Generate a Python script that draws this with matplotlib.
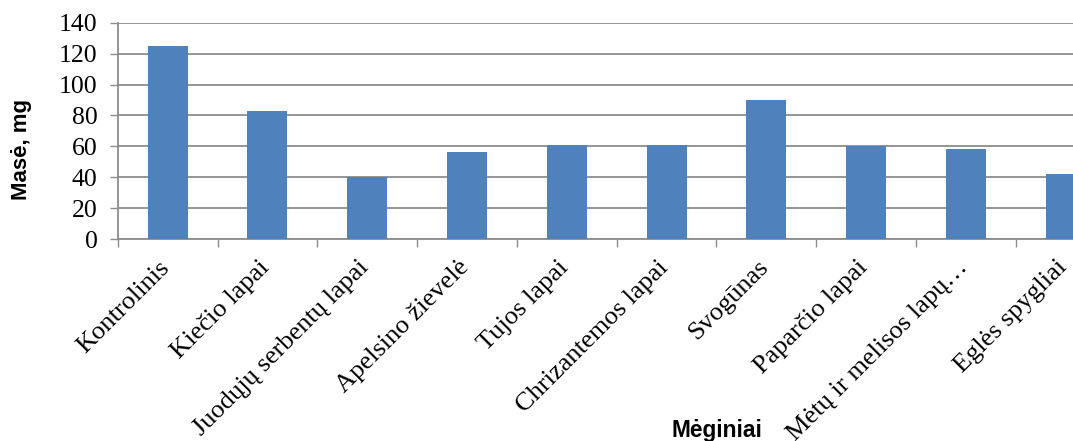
import matplotlib
matplotlib.use("Agg")
import matplotlib.pyplot as plt
import matplotlib.transforms as mtransforms
from matplotlib import font_manager
import numpy as np

# ── data ──
samples = [
    "Kontrolinis", "Kiečio lapai", "Juodųjų serbentų lapai", "Apelsino žievelė",
    "Tujos lapai", "Chrizantemos lapai", "Svogūnas", "Paparčio lapai",
    "Mėtų ir melisos lapų…", "Eglės spygliai",
]
mass_mg = [125, 83, 40, 56, 61, 61, 90, 60, 58, 42]
y_ticks = [0, 20, 40, 60, 80, 100, 120, 140]

BAR = "#4F81BD"
GRID = "#8C8C8C"
SERIF = ["Liberation Serif", "DejaVu Serif"]
SANS = ["Liberation Sans", "DejaVu Sans"]

# x title looks condensed in the original; use the narrow face if it is there
installed = {f.name for f in font_manager.fontManager.ttflist}
XT_FONT = (["Liberation Sans Narrow"] if "Liberation Sans Narrow" in installed else []) + SANS

W, H = 1073, 441
fig = plt.figure(figsize=(W / 100, H / 100), dpi=100, facecolor="white")

# plot area: y axis at x=117.7px, category width ~99.8px, right side cut by the figure edge
x0, cat_w = 117.7, 99.8
ax = fig.add_axes([x0 / W, 1 - 239 / H, 1 - x0 / W, (239 - 22.7) / H])

x = np.arange(len(samples))
ax.bar(x, mass_mg, width=0.4, color=BAR, zorder=3)

ax.set_yticks(y_ticks)
ax.set_yticklabels([str(v) for v in y_ticks], family=SERIF, fontsize=18.5)
ax.yaxis.grid(True, color=GRID, lw=1.3, zorder=0)

for s in ["top", "right"]:
    ax.spines[s].set_visible(False)
for s in ["left", "bottom"]:
    ax.spines[s].set_color(GRID)
    ax.spines[s].set_linewidth(1.3)

ax.tick_params(axis="y", length=5.5, width=1.0, color=GRID, pad=9)

# category labels at centres, tick marks at boundaries
ax.set_xticks(x)
ax.set_xticklabels(samples, family=SERIF, fontsize=19, rotation=45,
                   ha="right", va="top")
ax.set_xticks(np.arange(len(samples) + 1) - 0.5, minor=True)
ax.tick_params(axis="x", which="major", length=0, pad=12.5)
ax.tick_params(axis="x", which="minor", length=5.5, width=1.0, color=GRID)
shift = mtransforms.ScaledTranslation(6 / 100, 0, fig.dpi_scale_trans)
for lab in ax.get_xticklabels():
    lab.set_transform(lab.get_transform() + shift)

# limits last, so the tick setters do not widen them
ax.set_xlim(-0.5, -0.5 + (W - x0) / cat_w)
ax.set_ylim(0, 140)

fig.text(22 / W, 1 - 149 / H, "Masė, mg", rotation=90, ha="center", va="center",
         family=SANS, fontsize=16, fontweight="bold")
xt = fig.text(717 / W, 4.5 / H, "Mėginiai", ha="center", va="baseline",
              family=XT_FONT, fontsize=16, fontweight="bold")
# size the x title so it is ~91px wide like the original
r = fig.canvas.get_renderer()
w = xt.get_window_extent(r).width
xt.set_fontsize(16 * 91 / w)

fig.savefig("out.png", dpi=100, facecolor="white")
